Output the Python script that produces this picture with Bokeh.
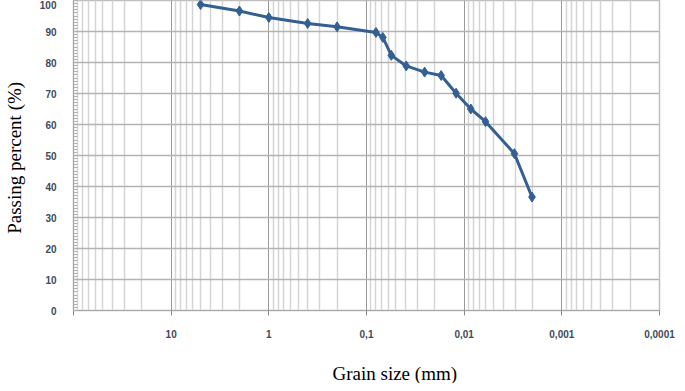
from bokeh.plotting import figure
from bokeh.models import Range1d, FixedTicker, SingleIntervalTicker, Title
from bokeh.embed import file_html
from bokeh.resources import INLINE

# data (grain size in mm, passing percent)
grain_size = [5.0, 2.0, 1.0, 0.40, 0.20, 0.080, 0.068, 0.0557, 0.0392, 0.0254,
              0.0172, 0.0121, 0.00855, 0.00604, 0.00306, 0.00202]
passing = [98.7, 96.6, 94.5, 92.6, 91.5, 89.7, 88.1, 82.3, 78.9, 76.9,
           75.8, 70.1, 65.0, 60.9, 50.6, 36.6]

x_ticks = [100, 10, 1, 0.1, 0.01, 0.001, 0.0001]
x_tick_labels = ["", "10", "1", "0,1", "0,01", "0,001", "0,0001"]
x_minor = [k * 10.0 ** e for e in range(-4, 2) for k in range(2, 10)]

p = figure(width=676, height=383, x_axis_type="log",
           x_range=Range1d(100, 0.0001), y_range=Range1d(0, 100),
           output_backend="svg", toolbar_location=None,
           min_border_left=63, min_border_right=17,
           min_border_top=0, min_border_bottom=70)
p.background_fill_color = "white"
p.border_fill_color = "white"
p.outline_line_color = "#bfbfbf"
p.outline_line_width = 1.5

# x axis
p.xaxis.ticker = FixedTicker(ticks=x_ticks, minor_ticks=x_minor)
p.xaxis.major_label_overrides = {t: l for t, l in zip(x_ticks, x_tick_labels)}
p.xaxis.axis_line_color = "#a6a6a6"
p.xaxis.major_tick_line_color = "#8c8c8c"
p.xaxis.major_tick_in = 0
p.xaxis.major_tick_out = 5
p.xaxis.minor_tick_line_color = None
p.xaxis.major_label_standoff = 14
# invisible spacer label to push the title down
p.xaxis.axis_label = "\u00a0"
p.xaxis.axis_label_text_font_size = "10px"
p.xaxis.axis_label_standoff = 6

# y axis
p.yaxis.ticker = SingleIntervalTicker(interval=10, num_minor_ticks=10)
p.yaxis.axis_line_color = "#a6a6a6"
p.yaxis.major_tick_line_color = None
p.yaxis.minor_tick_in = 4
p.yaxis.minor_tick_out = 0
p.yaxis.minor_tick_line_color = "#b0b0b0"
p.yaxis.major_label_standoff = 11
p.yaxis.axis_label = "Passing  percent (%)"
p.yaxis.axis_label_text_font = "Liberation Serif"
p.yaxis.axis_label_text_font_size = "19px"
p.yaxis.axis_label_text_font_style = "normal"
p.yaxis.axis_label_text_color = "black"
p.yaxis.axis_label_standoff = 12

for ax in (p.xaxis, p.yaxis):
    ax.major_label_text_font = "Liberation Sans"
    ax.major_label_text_font_style = "bold"
    ax.major_label_text_font_size = "10px"
    ax.major_label_text_color = "#404a5a"

# grids
p.xgrid.grid_line_color = "#999999"
p.xgrid.grid_line_width = 1
p.xgrid.minor_grid_line_color = "#d4d4d4"
p.xgrid.minor_grid_line_width = 1.5
p.ygrid.grid_line_color = "#b3b3b3"
p.ygrid.grid_line_width = 1.5

# data
color = "#345f93"
p.line(grain_size, passing, line_color=color, line_width=3)
p.scatter(grain_size, passing, marker="diamond", size=10,
          fill_color=color, line_color=color)

# x axis title
p.add_layout(Title(text="Grain size (mm)", align="left", offset=259,
                   standoff=0, text_font="Liberation Serif",
                   text_font_size="19px", text_font_style="normal",
                   text_color="black"), "below")

open("out.html", "w").write(file_html(p, INLINE))
